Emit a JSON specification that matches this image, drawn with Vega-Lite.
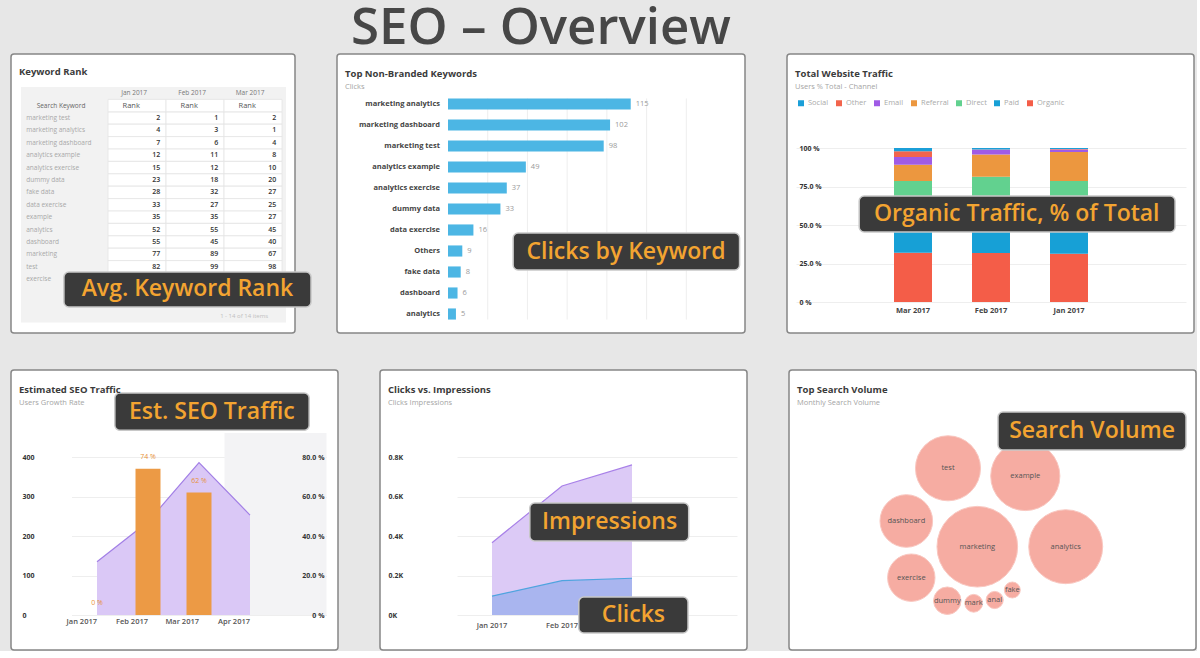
{
"$schema":"https://vega.github.io/schema/vega-lite/v6.json",
"background":"#e7e7e7",
"padding":{"left":10,"top":3,"right":0,"bottom":0},
"title":{"text":"SEO – Overview","anchor":"start","frame":"group","dx":340,"offset":-2,"fontSize":51,"fontWeight":600,"font":"Open Sans","color":"#474747"},
"spacing":35,
"config":{
 "font":"Open Sans",
 "view":{"fill":"#ffffff","stroke":"#878787","strokeWidth":1.5,"cornerRadius":3},
 "title":{"anchor":"start","frame":"group","dx":8,"fontSize":9.5,"fontWeight":700,"color":"#3b3b3b","subtitleFontSize":7.5,"subtitleColor":"#a5a5a5","subtitlePadding":4,"offset":-36},
 "axis":{"domain":false,"ticks":false,"gridColor":"#eeeeee","labelFont":"Open Sans"}
},
"vconcat":[
{"hconcat":[
{
 "width":284,"height":279,
 "title":{"text":"Keyword Rank","offset":-22},
 "layer":[
  {"data":{"values":[{}]},"mark":{"type":"rect","fill":"#f2f2f2"},
   "encoding":{
    "x":{"datum":"_l","bandPosition":0.5,"type":"nominal","axis":null,"scale":{"type":"band","domain":["_l","Search Keyword","Jan 2017","Feb 2017","Mar 2017","_r"],"range":[-19,329],"paddingInner":0,"paddingOuter":0}},
    "x2":{"datum":"_r","bandPosition":0.07},
    "y":{"datum":"Month","bandPosition":0,"type":"nominal","axis":null,"scale":{"type":"band","domain":["Month","Head","marketing test","marketing analytics","marketing dashboard","analytics example","analytics exercise","dummy data","fake data","data exercise","example","analytics","dashboard","marketing","test","exercise","sp1","sp2","footer"],"range":[33,268.6],"paddingInner":0,"paddingOuter":0}},
    "y2":{"datum":"footer","bandPosition":1}}},
  {"data":{"name":"kr","values":[
    {"kw":"marketing test","Jan 2017":2,"Feb 2017":1,"Mar 2017":2},
    {"kw":"marketing analytics","Jan 2017":4,"Feb 2017":3,"Mar 2017":1},
    {"kw":"marketing dashboard","Jan 2017":7,"Feb 2017":6,"Mar 2017":4},
    {"kw":"analytics example","Jan 2017":12,"Feb 2017":11,"Mar 2017":8},
    {"kw":"analytics exercise","Jan 2017":15,"Feb 2017":12,"Mar 2017":10},
    {"kw":"dummy data","Jan 2017":23,"Feb 2017":18,"Mar 2017":20},
    {"kw":"fake data","Jan 2017":28,"Feb 2017":32,"Mar 2017":27},
    {"kw":"data exercise","Jan 2017":33,"Feb 2017":27,"Mar 2017":25},
    {"kw":"example","Jan 2017":35,"Feb 2017":35,"Mar 2017":27},
    {"kw":"analytics","Jan 2017":52,"Feb 2017":55,"Mar 2017":45},
    {"kw":"dashboard","Jan 2017":55,"Feb 2017":45,"Mar 2017":40},
    {"kw":"marketing","Jan 2017":77,"Feb 2017":89,"Mar 2017":67},
    {"kw":"test","Jan 2017":82,"Feb 2017":99,"Mar 2017":98},
    {"kw":"exercise","Jan 2017":90,"Feb 2017":97,"Mar 2017":99}]},
   "transform":[{"fold":["Jan 2017","Feb 2017","Mar 2017"],"as":["month","rank"]}],
   "mark":{"type":"rect","fill":"#ffffff","stroke":"#e4e4e4","strokeWidth":0.8},
   "encoding":{"x":{"field":"month","type":"nominal","axis":null},"y":{"field":"kw","type":"nominal","axis":null}}},
  {"data":{"values":[{"month":"Jan 2017"},{"month":"Feb 2017"},{"month":"Mar 2017"}]},
   "mark":{"type":"rect","fill":"#ffffff","stroke":"#e4e4e4","strokeWidth":0.8},
   "encoding":{"x":{"field":"month","type":"nominal","axis":null},"y":{"datum":"Head","axis":null}}},
  {"data":{"values":[{"month":"Jan 2017"},{"month":"Feb 2017"},{"month":"Mar 2017"}]},
   "mark":{"type":"text","fontSize":6.5,"color":"#777777"},
   "encoding":{"x":{"field":"month","type":"nominal","bandPosition":0.45,"axis":null},"y":{"datum":"Month","axis":null},"text":{"field":"month"}}},
  {"data":{"values":[{"month":"Jan 2017"},{"month":"Feb 2017"},{"month":"Mar 2017"}]},
   "mark":{"type":"text","fontSize":7.5,"color":"#555555","text":"Rank"},
   "encoding":{"x":{"field":"month","type":"nominal","bandPosition":0.4,"axis":null},"y":{"datum":"Head","axis":null}}},
  {"data":{"values":[{}]},
   "mark":{"type":"text","fontSize":6.5,"color":"#666666","text":"Search Keyword"},
   "encoding":{"x":{"datum":"Search Keyword","bandPosition":0.19,"axis":null},"y":{"datum":"Head","axis":null}}},
  {"data":{"name":"kr"},
   "mark":{"type":"text","fontSize":6.5,"color":"#a8a8a8","align":"left"},
   "encoding":{"x":{"datum":"_l","bandPosition":0.59,"axis":null},"y":{"field":"kw","type":"nominal","axis":null},"text":{"field":"kw"}}},
  {"data":{"name":"kr"},
   "transform":[{"fold":["Jan 2017","Feb 2017","Mar 2017"],"as":["month","rank"]}],
   "mark":{"type":"text","fontSize":7,"fontWeight":600,"color":"#333333","align":"right"},
   "encoding":{"x":{"field":"month","type":"nominal","bandPosition":0.9,"axis":null},"y":{"field":"kw","type":"nominal","axis":null},"text":{"field":"rank","type":"quantitative"}}},
  {"data":{"values":[{}]},
   "mark":{"type":"text","fontSize":6,"color":"#c0c0c0","align":"right","text":"1 - 14 of 14 items"},
   "encoding":{"x":{"datum":"Mar 2017","bandPosition":0.76,"axis":null},"y":{"datum":"footer","axis":null}}},
  {"data":{"values":[{}]},
   "mark":{"type":"rect","fill":"#3a3a3a","stroke":"#c8c8c8","strokeWidth":1.5,"cornerRadius":5},
   "encoding":{"x":{"datum":"Search Keyword","bandPosition":0.24,"axis":null},"x2":{"datum":"_r","bandPosition":0.5},"y":{"datum":"test","bandPosition":0.92,"axis":null},"y2":{"datum":"sp2","bandPosition":0.74}}},
  {"data":{"values":[{}]},
   "mark":{"type":"text","text":"Avg. Keyword Rank","fontSize":23,"fontWeight":600,"color":"#f3a431"},
   "encoding":{"x":{"datum":"Feb 2017","bandPosition":0.37,"axis":null},"y":{"datum":"sp1","bandPosition":0.33,"axis":null}}}
 ]
},
{
 "width":408,"height":279,
 "title":{"text":"Top Non-Branded Keywords","subtitle":"Clicks"},
 "data":{"values":[
  {"kw":"marketing analytics","clicks":115},
  {"kw":"marketing dashboard","clicks":102},
  {"kw":"marketing test","clicks":98},
  {"kw":"analytics example","clicks":49},
  {"kw":"analytics exercise","clicks":37},
  {"kw":"dummy data","clicks":33},
  {"kw":"data exercise","clicks":16},
  {"kw":"Others","clicks":9},
  {"kw":"fake data","clicks":8},
  {"kw":"dashboard","clicks":6},
  {"kw":"analytics","clicks":5}]},
 "layer":[
  {"data":{"values":[{"g":25},{"g":50},{"g":75},{"g":100},{"g":125},{"g":150}]},
   "mark":{"type":"rule","stroke":"#eeeeee","strokeWidth":1},
   "encoding":{
    "x":{"field":"g","type":"quantitative","axis":null,"scale":{"domain":[0,175],"range":[111,397]}},
    "y":{"datum":"marketing analytics","bandPosition":0,"type":"nominal","axis":null,"scale":{"type":"band","domain":["marketing analytics","marketing dashboard","marketing test","analytics example","analytics exercise","dummy data","data exercise","Others","fake data","dashboard","analytics"],"range":[39.5,270.5],"paddingInner":0.47,"paddingOuter":0.235}},
    "y2":{"datum":"analytics","bandPosition":1}}},
  {"mark":{"type":"bar","color":"#4cb6e4"},
   "encoding":{"x":{"field":"clicks","type":"quantitative","axis":null},"y":{"field":"kw","type":"nominal","axis":null}}},
  {"mark":{"type":"text","align":"left","dx":5,"fontSize":7.5,"color":"#9a9a9a"},
   "encoding":{"x":{"field":"clicks","type":"quantitative","axis":null},"y":{"field":"kw","type":"nominal","axis":null},"text":{"field":"clicks","type":"quantitative"}}},
  {"mark":{"type":"text","align":"right","dx":-8,"fontSize":7.5,"fontWeight":700,"color":"#444444"},
   "encoding":{"x":{"datum":0,"type":"quantitative","axis":null},"y":{"field":"kw","type":"nominal","axis":null},"text":{"field":"kw"}}},
  {"data":{"values":[{}]},
   "mark":{"type":"rect","fill":"#3a3a3a","stroke":"#c8c8c8","strokeWidth":1.5,"cornerRadius":5},
   "encoding":{"x":{"datum":41,"type":"quantitative","axis":null},"x2":{"datum":183.5},"y":{"datum":"data exercise","bandPosition":0.77,"axis":null},"y2":{"datum":"fake data","bandPosition":0.32}}},
  {"data":{"values":[{}]},
   "mark":{"type":"text","text":"Clicks by Keyword","fontSize":23,"fontWeight":600,"color":"#f3a431"},
   "encoding":{"x":{"datum":112,"type":"quantitative","axis":null},"y":{"datum":"Others","bandPosition":0.55,"axis":null}}}
 ]
},
{
 "width":407,"height":279,
 "title":{"text":"Total Website Traffic","subtitle":"Users % Total - Channel"},
 "data":{"values":[
  {"month":"Mar 2017","channel":"Organic","pct":32},
  {"month":"Mar 2017","channel":"Paid","pct":22},
  {"month":"Mar 2017","channel":"Direct","pct":24.5},
  {"month":"Mar 2017","channel":"Referral","pct":10.7},
  {"month":"Mar 2017","channel":"Email","pct":4.9},
  {"month":"Mar 2017","channel":"Other","pct":3.8},
  {"month":"Mar 2017","channel":"Social","pct":2.1},
  {"month":"Feb 2017","channel":"Organic","pct":31.8},
  {"month":"Feb 2017","channel":"Paid","pct":24.2},
  {"month":"Feb 2017","channel":"Direct","pct":25.3},
  {"month":"Feb 2017","channel":"Referral","pct":14.4},
  {"month":"Feb 2017","channel":"Email","pct":3.2},
  {"month":"Feb 2017","channel":"Other","pct":0.1},
  {"month":"Feb 2017","channel":"Social","pct":1.0},
  {"month":"Jan 2017","channel":"Organic","pct":31.3},
  {"month":"Jan 2017","channel":"Paid","pct":23.7},
  {"month":"Jan 2017","channel":"Direct","pct":23.5},
  {"month":"Jan 2017","channel":"Referral","pct":18.9},
  {"month":"Jan 2017","channel":"Email","pct":1.7},
  {"month":"Jan 2017","channel":"Other","pct":0.2},
  {"month":"Jan 2017","channel":"Social","pct":0.7}]},
 "layer":[
  {"transform":[{"calculate":"indexof(['Organic','Paid','Direct','Referral','Email','Other','Social'], datum.channel)","as":"stackOrder"}],
   "mark":{"type":"bar","width":{"band":0.487}},
   "encoding":{
    "x":{"field":"month","type":"nominal","scale":{"type":"band","domain":["_l","Mar 2017","Feb 2017","Jan 2017","_r"],"range":[9,399],"paddingInner":0,"paddingOuter":0},
         "axis":{"title":null,"offset":-31,"labelPadding":4,"labelAngle":0,"labelFontWeight":700,"labelColor":"#444444","labelFontSize":7.5,"labelExpr":"indexof(datum.label,'_')==0 ? '' : datum.label"}},
    "y":{"field":"pct","type":"quantitative","stack":"zero","scale":{"domain":[0,100],"range":[248,94]},
         "axis":{"title":null,"values":[0,25,50,75,100],"labelExpr":"datum.value==0?'0 %':datum.value==100?'100 %':format(datum.value,'.1f')+' %'","labelAlign":"left","labelPadding":-12,"grid":true,"labelFontWeight":700,"labelColor":"#333333","labelFontSize":7}},
    "order":{"field":"stackOrder","type":"quantitative","sort":"ascending"},
    "color":{"field":"channel","type":"nominal",
      "scale":{"domain":["Social","Other","Email","Referral","Direct","Paid","Organic"],"range":["#1b9fd8","#f2644c","#a05be6","#ec973f","#62d18f","#17a0d6","#f45d48"]},
      "legend":{"orient":"none","legendX":786,"legendY":45,"direction":"horizontal","columns":7,"title":null,"symbolType":"square","symbolSize":36,"labelFontSize":7.5,"labelColor":"#aaaaaa","columnPadding":6,"labelOffset":3}}}},
  {"data":{"values":[{}]},
   "mark":{"type":"rect","fill":"#3a3a3a","stroke":"#c8c8c8","strokeWidth":1.5,"cornerRadius":5},
   "encoding":{"x":{"datum":"_l","bandPosition":0.81},"x2":{"datum":"_r","bandPosition":0.86},"y":{"datum":68.8,"type":"quantitative"},"y2":{"datum":45.5}}},
  {"data":{"values":[{}]},
   "mark":{"type":"text","text":"Organic Traffic, % of Total","fontSize":23,"fontWeight":600,"color":"#f3a431"},
   "encoding":{"x":{"datum":"Feb 2017","bandPosition":0.83},"y":{"datum":57,"type":"quantitative"}}}
 ]
}
],"spacing":42,"bounds":"flush"},
{"hconcat":[
{
 "width":327,"height":280,
 "title":{"text":"Estimated SEO Traffic","subtitle":"Users  Growth Rate"},
 "data":{"values":[
  {"month":"Jan 2017","users":135,"growth":0},
  {"month":"Feb 2017","users":236,"growth":74},
  {"month":"Mar 2017","users":386,"growth":62},
  {"month":"Apr 2017","users":253,"growth":null}]},
 "layer":[
  {"layer":[
   {"data":{"values":[{}]},"mark":{"type":"rect","fill":"#f3f3f5"},
    "encoding":{"x":{"datum":"Apr 2017","bandPosition":0},"x2":{"datum":"_","bandPosition":1},"y":{"datum":0,"type":"quantitative"},"y2":{"datum":461}}},
   {"mark":{"type":"area","color":"#dac8f6","opacity":1,"line":{"color":"#a27fe6","strokeWidth":1.2}},
    "encoding":{
     "x":{"field":"month","type":"nominal","bandPosition":0.5,"scale":{"type":"band","domain":["Jan 2017","Feb 2017","Mar 2017","Apr 2017","_"],"range":[60.5,315.5],"paddingInner":0,"paddingOuter":0},
          "axis":{"title":null,"offset":-35,"labelPadding":6,"labelAngle":0,"labelFontWeight":600,"labelColor":"#555555","labelFontSize":7.5,"labelExpr":"datum.label=='_' ? '' : datum.label"}},
     "y":{"field":"users","type":"quantitative","scale":{"domain":[0,400],"range":[245,87]},
          "axis":{"title":null,"values":[0,100,200,300,400],"labelAlign":"left","labelPadding":-11,"grid":true,"labelFontWeight":700,"labelColor":"#333333","labelFontSize":7}}}},
   {"data":{"values":[{}]},
    "mark":{"type":"rect","fill":"#3a3a3a","stroke":"#c8c8c8","strokeWidth":1.5,"cornerRadius":5},
    "encoding":{"x":{"datum":"Jan 2017","bandPosition":0.85},"x2":{"datum":"_","bandPosition":0.66},"y":{"datum":562,"type":"quantitative"},"y2":{"datum":468}}},
   {"data":{"values":[{}]},
    "mark":{"type":"text","text":"Est. SEO Traffic","fontSize":23,"fontWeight":600,"color":"#f3a431"},
    "encoding":{"x":{"datum":"Mar 2017","bandPosition":0.75},"y":{"datum":515,"type":"quantitative"}}}
  ]},
  {"transform":[{"filter":"datum.growth != null"}],
   "layer":[
   {"mark":{"type":"bar","color":"#ec9a45","width":{"band":0.49}},
    "encoding":{
     "x":{"field":"month","type":"nominal"},
     "y":{"field":"growth","type":"quantitative","scale":{"domain":[0,80],"range":[245,87]},
          "axis":{"orient":"right","title":null,"zindex":2,"values":[0,20,40,60,80],"labelExpr":"datum.value==0?'0 %':format(datum.value,'.1f')+' %'","labelAlign":"right","labelPadding":-14,"grid":false,"labelFontWeight":700,"labelColor":"#333333","labelFontSize":7}}}},
   {"mark":{"type":"text","dy":-12,"fontSize":7,"color":"#e8923a","text":{"expr":"datum.growth + ' %'"}},
    "encoding":{"x":{"field":"month","type":"nominal"},"y":{"field":"growth","type":"quantitative"}}}
  ]}
 ],
 "resolve":{"scale":{"y":"independent"}}
},
{
 "width":367,"height":280,
 "title":{"text":"Clicks vs. Impressions","subtitle":"Clicks  Impressions"},
 "data":{"values":[
  {"month":"Jan 2017","clicks":96,"impressions":366},
  {"month":"Feb 2017","clicks":174,"impressions":653},
  {"month":"Mar 2017","clicks":186,"impressions":760}]},
 "layer":[
  {"mark":{"type":"area","color":"#dccaf6","opacity":1,"line":{"color":"#a880e8","strokeWidth":1.2}},
   "encoding":{
    "x":{"field":"month","type":"nominal","bandPosition":0.5,"scale":{"type":"band","domain":["Jan 2017","Feb 2017","Mar 2017","_b"],"range":[77,357],"paddingInner":0,"paddingOuter":0},
         "axis":{"title":null,"offset":-35,"labelPadding":6,"labelAngle":0,"labelFontWeight":600,"labelColor":"#555555","labelFontSize":7.5,"labelExpr":"datum.label=='_b' ? '' : datum.label"}},
    "y":{"field":"impressions","type":"quantitative","scale":{"domain":[0,800],"range":[245,87]},
         "axis":{"title":null,"values":[0,200,400,600,800],"labelExpr":"datum.value==0?'0K':format(datum.value/1000,'.1f')+'K'","labelAlign":"left","labelPadding":-8,"grid":true,"labelFontWeight":700,"labelColor":"#333333","labelFontSize":7}}}},
  {"mark":{"type":"area","color":"#a9b5ef","opacity":1,"line":{"color":"#4fa4df","strokeWidth":1.2}},
   "encoding":{"x":{"field":"month","type":"nominal","bandPosition":0.5},"y":{"field":"clicks","type":"quantitative"}}},
  {"data":{"values":[{}]},
   "mark":{"type":"rect","fill":"#3a3a3a","stroke":"#c8c8c8","strokeWidth":1.5,"cornerRadius":5},
   "encoding":{"x":{"datum":"Feb 2017","bandPosition":0.04},"x2":{"datum":"_b","bandPosition":0.31},"y":{"datum":567,"type":"quantitative"},"y2":{"datum":375}}},
  {"data":{"values":[{}]},
   "mark":{"type":"text","text":"Impressions","fontSize":23,"fontWeight":600,"color":"#f3a431"},
   "encoding":{"x":{"datum":"Mar 2017","bandPosition":0.18},"y":{"datum":471,"type":"quantitative"}}},
  {"data":{"values":[{}]},
   "mark":{"type":"rect","fill":"#3a3a3a","stroke":"#c8c8c8","strokeWidth":1.5,"cornerRadius":5},
   "encoding":{"x":{"datum":"Feb 2017","bandPosition":0.74},"x2":{"datum":"_b","bandPosition":0.3},"y":{"datum":91,"type":"quantitative"},"y2":{"datum":-91}}},
  {"data":{"values":[{}]},
   "mark":{"type":"text","text":"Clicks","fontSize":23,"fontWeight":600,"color":"#f3a431"},
   "encoding":{"x":{"datum":"Mar 2017","bandPosition":0.52},"y":{"datum":0,"type":"quantitative"}}}
 ]
},
{
 "width":407,"height":280,
 "title":{"text":"Top Search Volume","subtitle":"Monthly Search Volume"},
 "data":{"values":[
  {"kw":"marketing","volume":2000,"x":0,"y":0},
  {"kw":"analytics","volume":1680,"x":8.84,"y":0},
  {"kw":"example","volume":1470,"x":4.8,"y":7.07},
  {"kw":"test","volume":1300,"x":-2.93,"y":7.84},
  {"kw":"dashboard","volume":850,"x":-7.1,"y":2.57},
  {"kw":"exercise","volume":690,"x":-6.6,"y":-3.1},
  {"kw":"dummy","volume":232,"x":-3.0,"y":-5.4},
  {"kw":"mark","volume":97,"x":-0.36,"y":-5.66},
  {"kw":"anal","volume":90,"x":1.74,"y":-5.33},
  {"kw":"fake","volume":78,"x":3.5,"y":-4.33}]},
 "layer":[
  {"mark":{"type":"circle","fill":"#f6a59b","opacity":0.92,"stroke":"#f9c3bb","strokeWidth":1},
   "encoding":{
    "x":{"field":"x","type":"quantitative","axis":null,"scale":{"domain":[-18.83,21.87],"zero":false,"nice":false}},
    "y":{"field":"y","type":"quantitative","axis":null,"scale":{"domain":[-10.33,17.67],"zero":false,"nice":false}},
    "size":{"field":"volume","type":"quantitative","legend":null,"scale":{"type":"linear","domain":[0,2000],"range":[0,6504]}}}},
  {"mark":{"type":"text","fontSize":7.5,"color":"#555555"},
   "encoding":{"x":{"field":"x","type":"quantitative","axis":null},"y":{"field":"y","type":"quantitative","axis":null},"text":{"field":"kw"}}},
  {"data":{"values":[{}]},
   "mark":{"type":"rect","fill":"#3a3a3a","stroke":"#c8c8c8","strokeWidth":1.5,"cornerRadius":5},
   "encoding":{"x":{"datum":2.07,"type":"quantitative","axis":null},"x2":{"datum":20.87},"y":{"datum":13.47,"type":"quantitative","axis":null},"y2":{"datum":9.67}}},
  {"data":{"values":[{}]},
   "mark":{"type":"text","text":"Search Volume","fontSize":23,"fontWeight":600,"color":"#f3a431"},
   "encoding":{"x":{"datum":11.47,"type":"quantitative","axis":null},"y":{"datum":11.57,"type":"quantitative","axis":null}}}
 ]
}
],"spacing":42,"bounds":"flush"}
]
}
